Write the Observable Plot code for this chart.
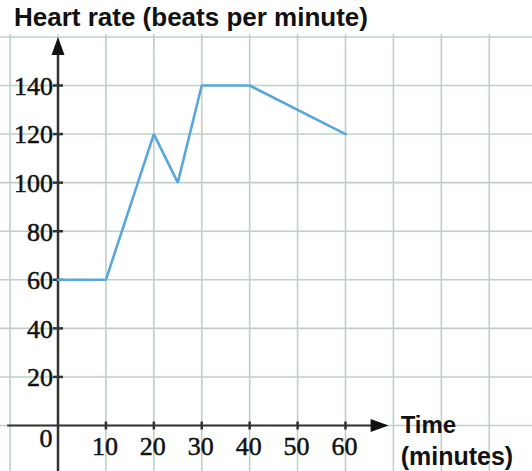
<!DOCTYPE html>
<html>
<head>
<meta charset="utf-8">
<script src="https://cdn.jsdelivr.net/npm/d3@7"></script>
<script src="https://cdn.jsdelivr.net/npm/@observablehq/plot@0.6"></script>
<style>
  html, body { margin: 0; padding: 0; background: #fff; }
  #wrap { width: 532px; height: 471px; overflow: hidden; }
  #title { position: relative; height: 34px; }
  #title span {
    position: absolute; left: 14px; top: 3px;
    font-family: "Liberation Sans", Arial, sans-serif; font-weight: bold;
    font-size: 26px; line-height: 29px; color: #111; white-space: nowrap;
  }
  svg { display: block; }
</style>
</head>
<body>
<div id="wrap">
  <div id="title"><span>Heart rate (beats per minute)</span></div>
  <div id="chart"></div>
</div>
<script>
// ---- data ----
const minutes   = [0, 10, 20, 25, 30, 40, 60];
const heartRate = [60, 60, 120, 100, 140, 140, 120];
const xTickLabels = [10, 20, 30, 40, 50, 60];
const yTickLabels = [20, 40, 60, 80, 100, 120, 140];
const xGridLines = [-10, 0, 10, 20, 30, 40, 50, 60, 70, 80, 90, 100];
const yGridLines = [-20, 0, 20, 40, 60, 80, 100, 120, 140, 160];
const xAxisTitle1 = ["Time"];
const xAxisTitle2 = ["(minutes)"];
const originLabel = ["0"];

// extents of the drawn axes / grid (data units)
const xAxisEnd = 69, yAxisEnd = 160;
const gridXMin = -12, gridXMax = 102, gridYMin = -22, gridYMax = 170;

const data = minutes.map((t, i) => ({t, hr: heartRate[i]}));

// custom symbols
const arrowHead = { draw(ctx) { ctx.moveTo(0, 0); ctx.lineTo(6.5, 18); ctx.lineTo(-6.5, 18); ctx.closePath(); } };
const hDash = { draw(ctx) { ctx.moveTo(-5, 0); ctx.lineTo(5, 0); } };
const vDash = { draw(ctx) { ctx.moveTo(0, -4); ctx.lineTo(0, 4); } };

const gridColor = "#bcd2c6";
const axisColor = "#333";
const lineColor = "#5aa6da";
const serif = "'Liberation Serif', 'Times New Roman', serif";
const sans = "'Liberation Sans', Arial, sans-serif";
const labelStyle = {fontFamily: serif, fontSize: 26, fill: "#111", stroke: "#111", strokeWidth: 0.5};
const titleStyle = {fontFamily: sans, fontWeight: "bold", fontSize: 24, fill: "#111", textAnchor: "start"};

const chart = Plot.plot({
  width: 532,
  height: 437,
  margin: 0,
  x: {domain: [0, 60], range: [57.5, 345], axis: null},
  y: {domain: [0, 140], range: [391, 51], axis: null},
  marks: [
    Plot.ruleX(xGridLines, {x: d => d, y1: gridYMin, y2: gridYMax, stroke: gridColor, strokeWidth: 1.6}),
    Plot.ruleY(yGridLines, {y: d => d, x1: gridXMin, x2: gridXMax, stroke: gridColor, strokeWidth: 1.6}),
    // axes
    Plot.ruleX([0], {y1: gridYMin, y2: yAxisEnd - 6, stroke: axisColor, strokeWidth: 2.5}),
    Plot.ruleY([0], {x1: -10.5, x2: xAxisEnd - 2, stroke: axisColor, strokeWidth: 2.2}),
    Plot.dot([0], {x: 0, y: yAxisEnd, symbol: arrowHead, fill: "#111", stroke: "none"}),
    Plot.dot([0], {x: xAxisEnd, y: 0, symbol: arrowHead, rotate: 90, fill: "#111", stroke: "none"}),
    // tick marks
    Plot.dot(yTickLabels, {x: 0, y: d => d, symbol: hDash, stroke: axisColor, strokeWidth: 2.5}),
    Plot.dot(xTickLabels, {x: d => d, y: 0, symbol: vDash, stroke: axisColor, strokeWidth: 2.5}),
    // data line
    Plot.line(data, {x: "t", y: "hr", stroke: lineColor, strokeWidth: 2.6, strokeLinejoin: "miter"}),
    // tick labels
    Plot.text(yTickLabels, {x: 0, y: d => d, text: d => String(d), textAnchor: "end", dx: -5, dy: 1, ...labelStyle}),
    Plot.text(xTickLabels, {x: d => d, y: 0, text: d => String(d), dy: 21, dx: -1, ...labelStyle}),
    Plot.text(originLabel, {x: 0, y: 0, text: d => d, dx: -12, dy: 13, ...labelStyle}),
    // x axis title
    Plot.text(xAxisTitle1, {x: xAxisEnd, y: 0, text: d => d, dx: 12, dy: 0, ...titleStyle}),
    Plot.text(xAxisTitle2, {x: xAxisEnd, y: 0, text: d => d, dx: 12, dy: 31, ...titleStyle, fontSize: 25})
  ]
});
document.getElementById("chart").appendChild(chart);
</script>
</body>
</html>
